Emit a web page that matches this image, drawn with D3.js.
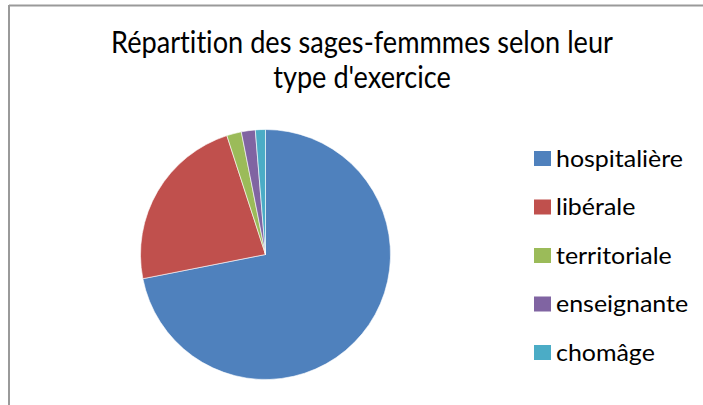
<!DOCTYPE html>
<html><head><meta charset="utf-8">
<script src="https://cdn.jsdelivr.net/npm/d3@7"></script>
<style>html,body{margin:0;padding:0;background:#fff;}svg{display:block;} text{font-variant-ligatures:none;font-feature-settings:"liga" 0;}</style>
</head><body>
<script>
const categories = ["hospitalière", "libérale", "territoriale", "enseignante", "chomâge"];
const values = [71.9, 23.1, 1.9, 1.8, 1.3];
const colors = ["#4F81BD", "#C0504D", "#9BBB59", "#8064A2", "#4BACC6"];
const titleLines = ["Répartition des sages-femmmes selon leur", "type d'exercice"];

const W = 703, H = 405;
const svg = d3.select("body").append("svg").attr("width", W).attr("height", H);
svg.append("rect").attr("width", W).attr("height", H).attr("fill", "#fff");
// chart border (left & top visible)
svg.append("line").attr("x1", 9).attr("y1", 5.5).attr("x2", W).attr("y2", 5.5).attr("stroke", "#9a9a9a").attr("stroke-width", 2);
svg.append("line").attr("x1", 9).attr("y1", 5).attr("x2", 9).attr("y2", H).attr("stroke", "#9a9a9a").attr("stroke-width", 2);

const font = "Lato, 'Open Sans', sans-serif";
// title
const titleFS = 30;
const titleBase = [53, 88];
const tprobe = svg.append("text").text(titleLines[0]).attr("font-family", font).attr("font-size", titleFS).attr("opacity", 0);
const sx = 502 / tprobe.node().getComputedTextLength();
tprobe.remove();
titleLines.forEach((t, i) => {
  svg.append("text").text(t).attr("font-family", font).attr("font-size", titleFS).attr("fill", "#000")
    .attr("text-anchor", "middle").attr("transform", `translate(362,${titleBase[i]}) scale(${sx},1)`);
});

// pie
const cx = 265.5, cy = 254.5, r = 125;
const pie = d3.pie().sort(null).value(d => d.v);
const arc = d3.arc().innerRadius(0).outerRadius(r);
const data = categories.map((c, i) => ({c, v: values[i], col: colors[i]}));
svg.append("g").attr("transform", `translate(${cx},${cy})`)
  .selectAll("path").data(pie(data)).join("path")
  .attr("d", arc).attr("fill", d => d.data.col)
  .attr("stroke", "#fff").attr("stroke-width", 0.6);

// legend
const legFS = 24;
const legY = d3.scalePoint().domain(categories).range([158.5, 352.5]);
const lg = svg.append("g");
const probe = lg.append("text").text(categories[0]).attr("font-family", font).attr("font-size", legFS).attr("opacity", 0);
const lsx = 127 / probe.node().getComputedTextLength();
probe.remove();
categories.forEach((c, i) => {
  const y = legY(c);
  lg.append("rect").attr("x", 534).attr("y", y - 7.5).attr("width", 17).attr("height", 15).attr("fill", colors[i]);
  lg.append("text").text(c).attr("font-family", font).attr("font-size", legFS).attr("fill", "#000")
    .attr("transform", `translate(556,${y + 8}) scale(${lsx},1)`);
});
</script>
</body></html>
